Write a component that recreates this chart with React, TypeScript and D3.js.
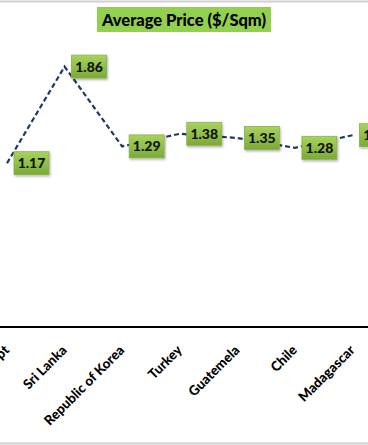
import { useEffect, useRef } from "react";
import * as d3 from "d3";

// visible part of the chart
const countries = [
  "Egypt",
  "Sri Lanka",
  "Republic of Korea",
  "Turkey",
  "Guatemela",
  "Chile",
  "Madagascar",
];
const prices = [1.17, 1.86, 1.29, 1.38, 1.35, 1.28, 1.37];
const chartTitle = "Average Price ($/Sqm)";

const App = () => {
  const ref = useRef<SVGSVGElement>(null);

  useEffect(() => {
    draw();
  }, []);

  const draw = () => {
    const width = 368;
    const height = 445;
    const font = "Lato, 'Open Sans', sans-serif";

    const svg = d3.select(ref.current).attr("width", width).attr("height", height);
    svg.selectAll("*").remove();

    const defs = svg.append("defs");
    const grad = defs
      .append("linearGradient")
      .attr("id", "lblGrad")
      .attr("x1", 0)
      .attr("y1", 0)
      .attr("x2", 0)
      .attr("y2", 1);
    grad.append("stop").attr("offset", "0%").attr("stop-color", "#a9d25e");
    grad.append("stop").attr("offset", "100%").attr("stop-color", "#7aab35");

    const shadow = defs.append("filter").attr("id", "shadow").attr("x", "-20%").attr("y", "-20%").attr("width", "150%").attr("height", "150%");
    shadow
      .append("feDropShadow")
      .attr("dx", 1)
      .attr("dy", 1.5)
      .attr("stdDeviation", 1)
      .attr("flood-color", "#000")
      .attr("flood-opacity", 0.3);

    svg.append("rect").attr("width", width).attr("height", height).attr("fill", "#fff");

    // frame edges (top / bottom of the chart area)
    svg.append("line").attr("x1", 0).attr("x2", width).attr("y1", 1.5).attr("y2", 1.5).attr("stroke", "#d0d0d0").attr("stroke-width", 2);
    svg.append("line").attr("x1", 0).attr("x2", width).attr("y1", 443.5).attr("y2", 443.5).attr("stroke", "#d0d0d0").attr("stroke-width", 2);

    const xScale = d3.scalePoint<string>().domain(countries).range([7, 352.5]);
    const yScale = d3.scaleLinear().domain([0, 2]).range([327, 47]);

    // category axis
    const xAxis = svg
      .append("g")
      .attr("transform", `translate(0,${yScale(0)})`)
      .call(d3.axisBottom(xScale).tickSize(0).tickFormat(() => ""));
    xAxis.select(".domain").attr("d", `M0,0H${width}`).attr("stroke", "#000").attr("stroke-width", 2.2);

    svg
      .append("g")
      .selectAll("text")
      .data(countries)
      .join("text")
      .attr("transform", (d) => `translate(${(xScale(d) as number) + 3},351) rotate(-45)`)
      .attr("text-anchor", "end")
      .attr("font-family", font)
      .attr("font-weight", 900)
      .attr("font-size", 13.5)
      .attr("fill", "#000")
      .text((d) => d);

    // title
    svg.append("rect").attr("x", 97).attr("y", 7).attr("width", 174).attr("height", 25).attr("fill", "#92d050");
    svg
      .append("text")
      .attr("x", 184)
      .attr("y", 25.5)
      .attr("text-anchor", "middle")
      .attr("font-family", font)
      .attr("font-weight", 900)
      .attr("font-size", 16.5)
      .attr("fill", "#000")
      .text(chartTitle);

    // dashed line
    const line = d3
      .line<number>()
      .x((d, i) => xScale(countries[i]) as number)
      .y((d) => yScale(d));
    svg
      .append("path")
      .datum(prices)
      .attr("d", line)
      .attr("fill", "none")
      .attr("stroke", "#1f3864")
      .attr("stroke-width", 2.2)
      .attr("stroke-dasharray", "5,3");

    // data labels
    const labels = svg
      .append("g")
      .selectAll("g")
      .data(prices)
      .join("g")
      .attr("transform", (d, i) => `translate(${(xScale(countries[i]) as number) + 7},${yScale(d)})`);
    labels
      .append("rect")
      .attr("x", 0)
      .attr("y", -11.5)
      .attr("width", 35)
      .attr("height", 23)
      .attr("fill", "url(#lblGrad)")
      .attr("stroke", "#8bb04a")
      .attr("stroke-width", 0.8)
      .attr("filter", "url(#shadow)");
    labels
      .append("text")
      .attr("x", 17.5)
      .attr("y", 5)
      .attr("text-anchor", "middle")
      .attr("font-family", font)
      .attr("font-weight", 900)
      .attr("font-size", 14)
      .attr("fill", "#111")
      .text((d) => d.toFixed(2));
  };

  return (
    <div style={{ position: "absolute", left: 0, top: 0 }}>
      <svg ref={ref}></svg>
    </div>
  );
};

export default App;
